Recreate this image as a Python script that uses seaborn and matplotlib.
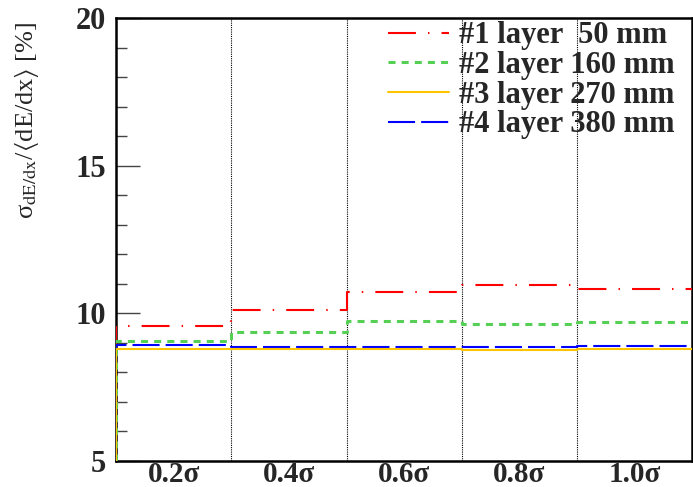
import numpy as np
import pandas as pd
import matplotlib
matplotlib.use("Agg")
import matplotlib.pyplot as plt
import seaborn as sns
from matplotlib.ticker import MultipleLocator

# Bin edges (window widths) and tick labels at bin centres
bin_edges = [0.1, 0.3, 0.5, 0.7, 0.9, 1.1]
bin_labels = ["0.2σ", "0.4σ", "0.6σ", "0.8σ", "1.0σ"]

# Relative dE/dx resolution [%] per layer
layer1 = [9.56, 10.12, 10.71, 10.95, 10.83]
layer2 = [9.06, 9.37, 9.75, 9.65, 9.72]
layer3 = [8.79, 8.78, 8.78, 8.77, 8.79]
layer4 = [8.94, 8.87, 8.86, 8.86, 8.90]

series_names = ["#1 layer  50 mm", "#2 layer 160 mm", "#3 layer 270 mm", "#4 layer 380 mm"]
series_vals = [layer1, layer2, layer3, layer4]
colors = ["#ff0000", "#55d055", "#ffc400", "#0000ff"]
widths = [1.5, 2.2, 1.5, 1.5]
dashes = [(0, (13.4, 5.8, 0.7, 5.8)), (0, (2.3, 2.0)), "-", (0, (13, 2.9))]
layers_z = [3, 3, 4, 3]

sns.set_theme(style="white")
plt.rcParams["font.family"] = ["Liberation Serif", "DejaVu Serif"]
plt.rcParams["mathtext.fontset"] = "stix"

fig = plt.figure(figsize=(6.93, 4.87), dpi=100)
ax = fig.add_axes([0.1674, 0.0534, 0.8316, 0.9096])

y_min, y_max = 5, 20
for name, vals, c, ls, w, z in zip(series_names, series_vals, colors, dashes,
                                   widths, layers_z):
    # histogram outline: rises from the axis floor at the first edge
    xs = [bin_edges[0]] + list(bin_edges)
    ys = [y_min] + list(vals) + [vals[-1]]
    df = pd.DataFrame({"x": xs, "y": ys})
    sns.lineplot(data=df, x="x", y="y", sort=False, estimator=None,
                 drawstyle="steps-post", color=c, linestyle=ls, lw=w,
                 ax=ax, label=name, zorder=z)

# dotted separators between bins
for e in bin_edges[1:-1]:
    ax.axvline(e, color="black", lw=0.8, ls=(0, (1, 1)), zorder=0)

ax.set_xlim(bin_edges[0], bin_edges[-1])
ax.set_ylim(y_min, y_max)
centers = [(a + b) / 2 for a, b in zip(bin_edges[:-1], bin_edges[1:])]
ax.set_xticks(centers)
ax.set_xticklabels(bin_labels, fontweight="bold", fontsize=21)
ax.tick_params(axis="x", length=0, pad=0)
ax.yaxis.set_minor_locator(MultipleLocator(1))
ax.set_yticks([5, 10, 15, 20])
ax.set_yticklabels(["5", "10", "15", "20"], fontweight="bold", fontsize=22)
ax.tick_params(axis="y", which="major", direction="in", length=17, width=1.0,
               color="#444444", left=True, pad=7)
ax.tick_params(axis="y", which="minor", direction="in", length=8, width=1.0,
               color="#444444", left=True)
ax.set_xlabel("")
ax.set_ylabel(r"σ$_{\rm dE/dx}$/$\langle$dE/dx$\rangle$ [%]", fontsize=19)
ax.yaxis.set_label_coords(-0.13, 0.77)

for s in ax.spines.values():
    s.set_color("black")
    s.set_linewidth(1.8)

leg = ax.legend(loc="upper right", frameon=False, handlelength=2.0,
                prop={"weight": "bold", "size": 22}, labelspacing=0.02,
                borderaxespad=0.0, handletextpad=0.33,
                bbox_to_anchor=(0.991, 1.02))

fig.savefig("out.png", dpi=100)
